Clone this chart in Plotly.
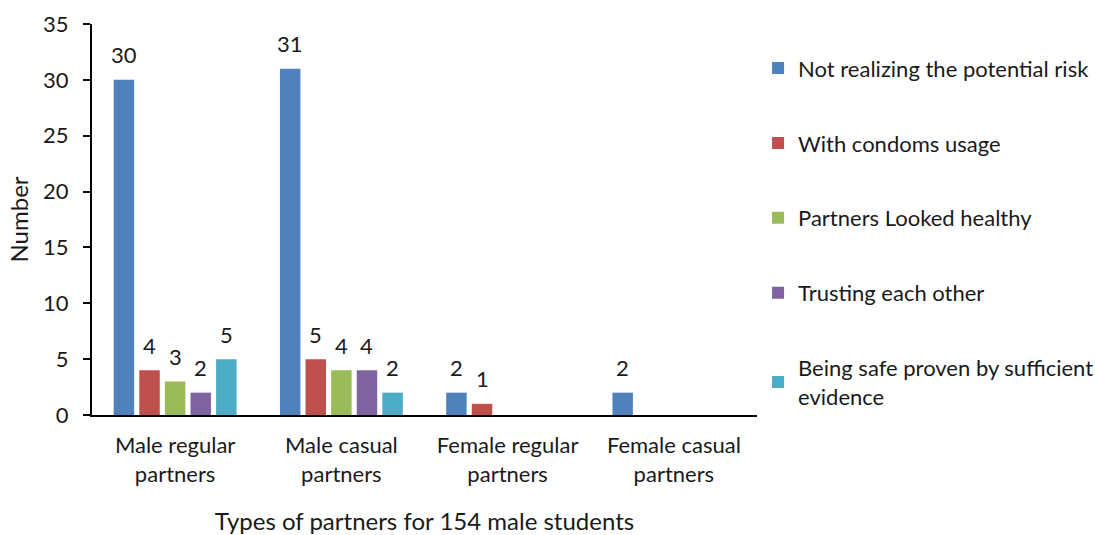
import plotly.graph_objects as go

categories = ["Male regular<br>partners", "Male casual<br>partners",
              "Female regular<br>partners", "Female casual<br>partners"]
series_names = ["Not realizing the potential risk", "With condoms usage",
                "Partners Looked healthy", "Trusting each other",
                "Being safe proven by sufficient<br>evidence"]
not_realizing = [30, 31, 2, 2]
condoms = [4, 5, 1, None]
looked_healthy = [3, 4, None, None]
trusting = [2, 4, None, None]
being_safe = [5, 2, None, None]
colors = ["#4F81BD", "#C0504D", "#9BBB59", "#8064A2", "#4BACC6"]

series_values = [not_realizing, condoms, looked_healthy, trusting, being_safe]

FONT = "Lato"
TXT = "#1a1a1a"
fig = go.Figure()
for i, (name, vals, col) in enumerate(zip(series_names, series_values, colors)):
    fig.add_trace(go.Bar(x=categories, y=vals, name=name, marker_color=col,
                         marker_line_width=0, legendgroup=f"g{i}"))

slot = 25.6
for i, vals in enumerate(series_values):
    for c, v in zip(categories, vals):
        if v is None:
            continue
        fig.add_annotation(x=c, y=v, text=str(v), showarrow=False,
                           xshift=(i - 2) * slot, yshift=25, yanchor="middle",
                           font=dict(family=FONT, size=22, color=TXT))

fig.update_layout(
    width=1095, height=535,
    margin=dict(l=92, r=338, t=24, b=120, autoexpand=False),
    paper_bgcolor="white", plot_bgcolor="white",
    barmode="group", bargap=0.23, bargroupgap=0.2,
    font=dict(family=FONT, size=22, color=TXT),
    legend=dict(x=1.0016, xanchor="left", y=0.9405, yanchor="top",
                font=dict(family=FONT, size=22, color=TXT),
                tracegroupgap=43.3, traceorder="grouped", itemwidth=30,
                bgcolor="rgba(0,0,0,0)"),
    showlegend=True,
)
fig.update_xaxes(showline=True, linecolor="black", linewidth=2, ticks="",
                 showgrid=False, ticklabelstandoff=10, automargin=False,
                 tickfont=dict(family=FONT, size=22, color=TXT),
                 title=dict(text="Types of partners for 154 male students",
                            font=dict(family=FONT, size=24, color=TXT), standoff=27))
fig.update_yaxes(range=[0, 35], dtick=5, showline=True, linecolor="black",
                 linewidth=2, ticks="outside", ticklen=7, tickcolor="black",
                 tickwidth=1.5, showgrid=False, zeroline=False, automargin=False,
                 tickfont=dict(family=FONT, size=22, color=TXT), ticklabelstandoff=10,
                 title=dict(text="Number", font=dict(family=FONT, size=24, color=TXT),
                            standoff=8))

fig.write_html("out.html")
